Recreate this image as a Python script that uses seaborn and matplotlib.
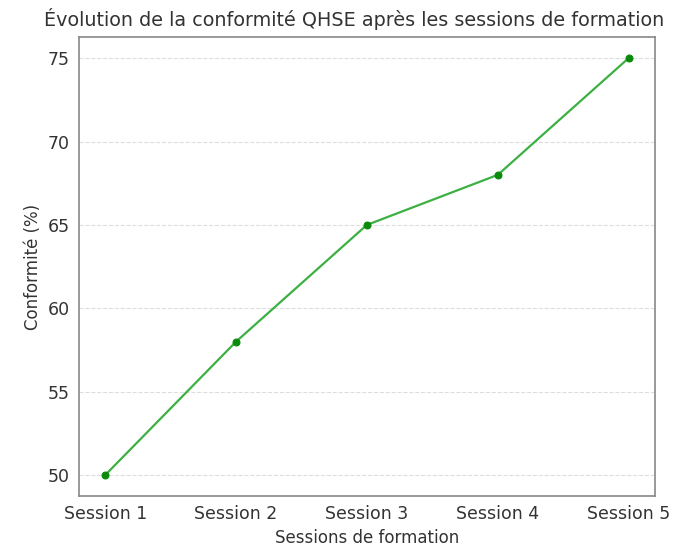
import matplotlib
matplotlib.use("Agg")
import pandas as pd
import matplotlib.pyplot as plt
import seaborn as sns

sessions = ['Session 1', 'Session 2', 'Session 3', 'Session 4', 'Session 5']
conformite = [50, 58, 65, 68, 75]

sns.set_style('white')
plt.rcParams['font.family'] = ['DejaVu Sans']
plt.rcParams['text.color'] = '#333333'
plt.rcParams['axes.labelcolor'] = '#333333'

df = pd.DataFrame({'Session': sessions, 'Conformité': conformite})

fig = plt.figure(figsize=(6.9, 5.48), dpi=100)
ax = fig.add_axes([0.1145, 0.095, 0.8345, 0.837])
sns.lineplot(data=df, x='Session', y='Conformité', ax=ax, color='#3cb043',
             linewidth=1.6, marker='o', markersize=5,
             markerfacecolor='#0a8a0a', markeredgecolor='#0a8a0a')

# light dashed horizontal grid only
ax.yaxis.grid(True, linestyle='--', color='#dddddd', linewidth=0.8)
ax.xaxis.grid(False)
for s in ax.spines.values():
    s.set_color('#888888')
    s.set_linewidth(1.2)
ax.tick_params(axis='both', which='both', length=3, width=0.8, labelsize=12.5, colors='#333333')

ax.set_title('Évolution de la conformité QHSE après les sessions de formation',
             fontsize=13.8, pad=8, x=0.477)
ax.set_xlabel('Sessions de formation', fontsize=12)
ax.set_ylabel('Conformité (%)', fontsize=12)

fig.savefig('out.png', dpi=100)
